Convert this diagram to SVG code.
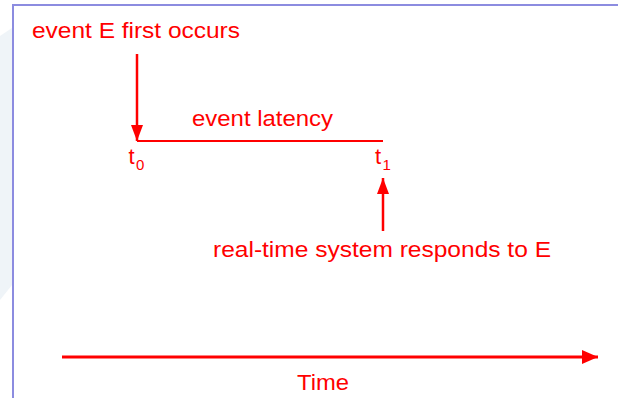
<svg xmlns="http://www.w3.org/2000/svg" width="618" height="398" viewBox="0 0 618 398">
  <style>
    .lbl { font-family: "Liberation Sans", Arial, Helvetica, sans-serif; font-size: 22px; fill: #ff0000; }
    .tee { font-size: 22px; }
    .sub { font-size: 15px; }
    .wire { stroke: #ff0000; fill: none; }
  </style>
  <defs>
    <marker id="head" viewBox="0 0 16 12" refX="16" refY="6" markerWidth="16" markerHeight="12" markerUnits="userSpaceOnUse" orient="auto">
      <path d="M0,0 L16,6 L0,12 z" fill="#ff0000"/>
    </marker>
    <marker id="headWide" viewBox="0 0 16 14" refX="16" refY="7" markerWidth="16" markerHeight="14" markerUnits="userSpaceOnUse" orient="auto">
      <path d="M0,0 L16,7 L0,14 z" fill="#ff0000"/>
    </marker>
  </defs>

  <!-- page background and slide frame -->
  <rect x="0" y="0" width="618" height="398" fill="#ffffff"/>
  <polygon points="0,36 12,28 12,285 0,300" fill="#eff4f8"/>
  <path d="M13,398 L13,5 L618,5" fill="none" stroke="#8c8ce0" stroke-width="2"/>

  <!-- connectors -->
  <g id="connectors">
    <line class="wire" x1="137" y1="54" x2="137" y2="141" stroke-width="2.5" marker-end="url(#head)"/>
    <line class="wire" x1="137" y1="141" x2="383" y2="141" stroke-width="2"/>
    <line class="wire" x1="383" y1="231" x2="383" y2="178" stroke-width="2.5" marker-end="url(#head)"/>
    <line class="wire" x1="62" y1="357" x2="598" y2="357" stroke-width="3" marker-end="url(#headWide)"/>
  </g>

  <g id="event-occurs">
    <text class="lbl" x="32" y="38" textLength="208" lengthAdjust="spacingAndGlyphs">event E first occurs</text>
  </g>

  <g id="latency">
    <text class="lbl" x="192" y="126" textLength="141" lengthAdjust="spacingAndGlyphs">event latency</text>
  </g>

  <g id="t0">
    <text class="lbl tee" x="128.5" y="164">t</text>
    <text class="lbl sub" x="136" y="170">0</text>
  </g>

  <g id="t1">
    <text class="lbl tee" x="375" y="164">t</text>
    <text class="lbl sub" x="382.5" y="170">1</text>
  </g>

  <g id="system-responds">
    <text class="lbl" x="213" y="257" textLength="338" lengthAdjust="spacingAndGlyphs">real-time system responds to E</text>
  </g>

  <g id="time-axis">
    <text class="lbl" x="297" y="390" textLength="52" lengthAdjust="spacingAndGlyphs">Time</text>
  </g>
</svg>
